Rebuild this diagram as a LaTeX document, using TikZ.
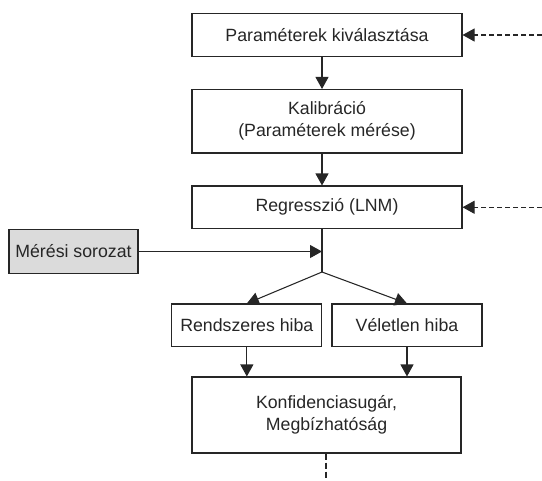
\documentclass[tikz,border=0pt]{standalone}
\usepackage{fontspec}
\setmainfont{Liberation Sans}
\usetikzlibrary{arrows.meta}
\begin{document}
\begin{tikzpicture}[x=0.75pt,y=-0.75pt,
  every node/.style={font=\fontsize{13.3}{16.5}\selectfont, text=black!85},
  boxnode/.style={draw=black!85, line width=0.8pt, align=center, inner sep=0pt},
  arr/.style={draw=black!85, line width=0.8pt, -{Triangle[length=9pt,width=9.75pt]}},
  darr/.style={arr, dash pattern=on 3.75pt off 2.25pt},
  dline/.style={draw=black!85, line width=0.8pt, dash pattern=on 4.5pt off 2.25pt}]
\useasboundingbox (0,0) rectangle (542,480);
% boxes
\node[boxnode, minimum width=270*0.75pt, minimum height=43*0.75pt] (b1) at (327,35) {Paraméterek kiválasztása};
\node[boxnode, minimum width=270*0.75pt, minimum height=63.5*0.75pt] (b2) at (327,121.25) {Kalibráció\\(Paraméterek mérése)};
\node[boxnode, minimum width=270*0.75pt, minimum height=42.5*0.75pt] (b3) at (327,207.25) {Regresszió (LNM)};
\node[boxnode, fill=black!14, minimum width=129*0.75pt, minimum height=44*0.75pt] (m) at (73.5,251.5) {Mérési sorozat};
\node[boxnode, minimum width=150*0.75pt, minimum height=42.7*0.75pt] (r) at (246.85,325.35) {Rendszeres hiba};
\node[boxnode, minimum width=150*0.75pt, minimum height=42.7*0.75pt] (v) at (407,325.35) {Véletlen hiba};
\node[boxnode, minimum width=269*0.75pt, minimum height=76*0.75pt] (k) at (326.5,415) {Konfidenciasugár,\\Megbízhatóság};
% coordinates
\coordinate (j) at (322,251.5);
\coordinate (br) at (322,272);
\coordinate (d1) at (542,35);
\coordinate (d3) at (542,207.25);
\coordinate (dend) at (326,480);
% connectors
\draw[arr] (b1.south -| j) -- (b2.north -| j);
\draw[arr] (b2.south -| j) -- (b3.north -| j);
\draw[draw=black!85, line width=0.8pt] (b3.south -| j) -- (br);
\draw[arr] (m.east) -- (j);
\draw[arr] (br) -- (r.north);
\draw[arr] (br) -- (v.north);
\draw[arr] (r.south) -- (r.south |- k.north);
\draw[arr] (v.south) -- (v.south |- k.north);
\draw[darr] (d1) -- (b1.east);
\draw[darr] (d3) -- (b3.east);
\draw[dline] (k.south -| dend) -- (dend);
\end{tikzpicture}
\end{document}
